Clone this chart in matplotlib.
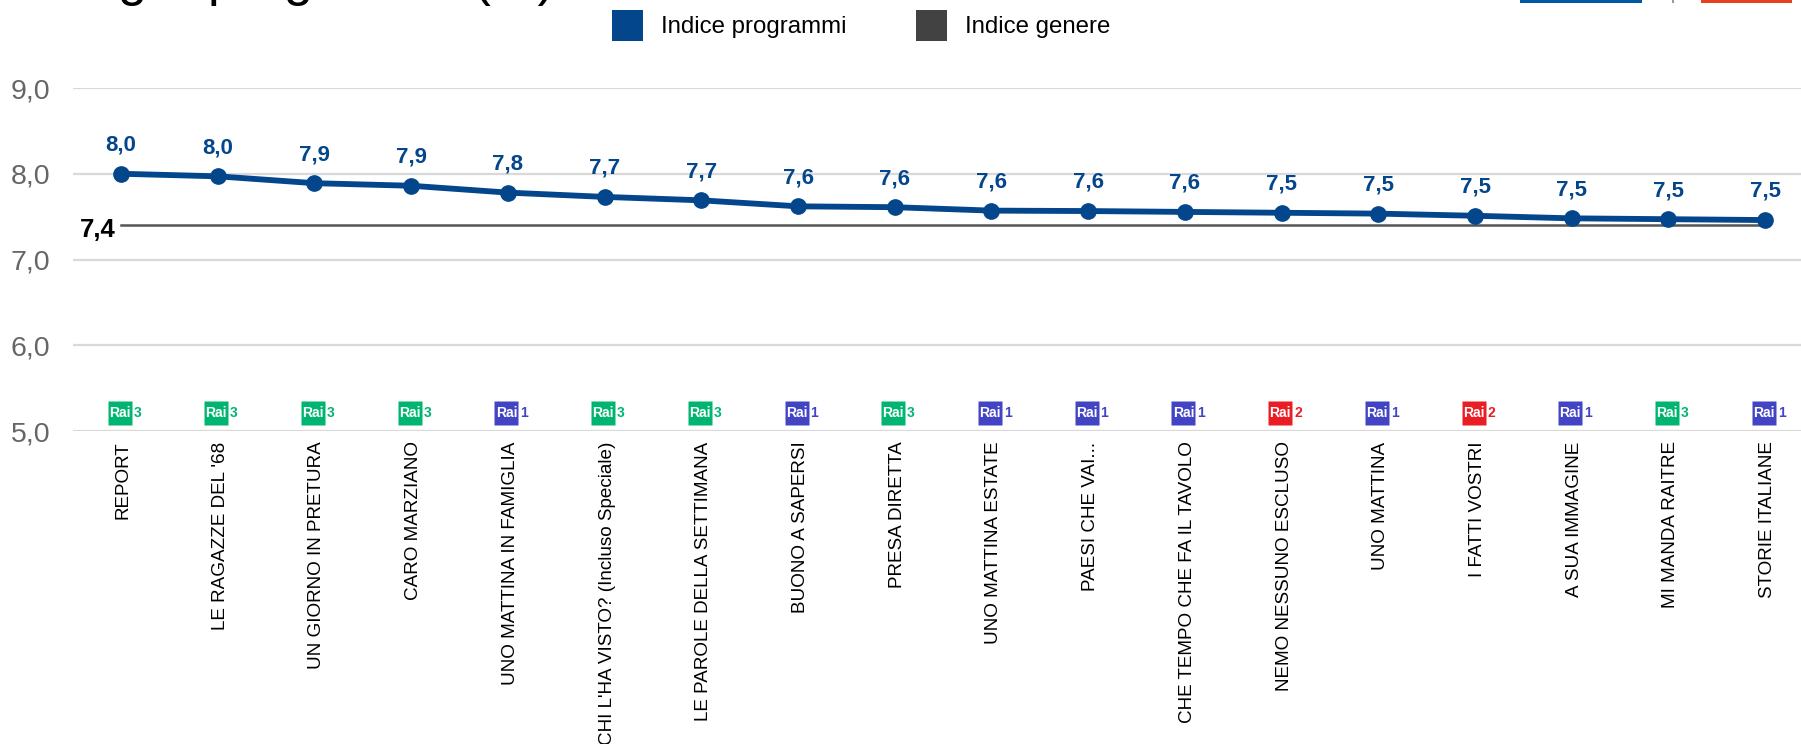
import matplotlib
matplotlib.use('Agg')
import matplotlib.pyplot as plt
from matplotlib.patches import Rectangle
from matplotlib.transforms import ScaledTranslation

plt.rcParams['font.family'] = ['Liberation Sans', 'DejaVu Sans']

programmi = ['REPORT', "LE RAGAZZE DEL '68", 'UN GIORNO IN PRETURA', 'CARO MARZIANO',
             'UNO MATTINA IN FAMIGLIA', "CHI L'HA VISTO? (Incluso Speciale)",
             'LE PAROLE DELLA SETTIMANA', 'BUONO A SAPERSI', 'PRESA DIRETTA',
             'UNO MATTINA ESTATE', 'PAESI CHE VAI...', 'CHE TEMPO CHE FA IL TAVOLO',
             'NEMO NESSUNO ESCLUSO', 'UNO MATTINA', 'I FATTI VOSTRI', 'A SUA IMMAGINE',
             'MI MANDA RAITRE', 'STORIE ITALIANE']
indice = [8.00, 7.97, 7.89, 7.86, 7.78, 7.73, 7.69, 7.62, 7.61,
          7.57, 7.565, 7.555, 7.545, 7.535, 7.51, 7.48, 7.47, 7.46]
etichette = ['8,0', '8,0', '7,9', '7,9', '7,8', '7,7', '7,7', '7,6', '7,6',
             '7,6', '7,6', '7,6', '7,5', '7,5', '7,5', '7,5', '7,5', '7,5']
reti = [3, 3, 3, 3, 1, 3, 3, 1, 3, 1, 1, 1, 2, 1, 2, 1, 3, 1]
indice_genere = 7.4
colori_rete = {1: '#4244c4', 2: '#ea1c24', 3: '#00b56f'}
BLU = '#03468c'

W, H = 1801, 744
fig = plt.figure(figsize=(W / 100, H / 100), dpi=100)
ax = fig.add_axes([73 / W, 1 - 431 / H, (W - 73) / W, 343 / H])
ax.set_xlim(-0.496, 17.37)
ax.set_ylim(5, 9)
for s in ax.spines.values():
    s.set_visible(False)
ax.set_yticks([5, 6, 7, 8, 9])
ax.set_yticklabels(['5,0', '6,0', '7,0', '8,0', '9,0'], color='#666666', fontsize=20.5)
ax.tick_params(axis='y', length=0, pad=16.5)
ax.grid(axis='y', color='#d9d9d9', lw=1.6)
ax.set_axisbelow(True)

x = list(range(len(programmi)))
ax.set_xticks(x)
ax.set_xticklabels(programmi, rotation=90, fontsize=13.6, color='black', va='top', ha='center')
ax.tick_params(axis='x', length=0, pad=7.5)
sposta = ScaledTranslation(1.8 / 72, 0, fig.dpi_scale_trans)
for lab in ax.get_xticklabels():
    lab.set_transform(lab.get_transform() + sposta)

ax.plot([x[0], x[-1]], [indice_genere] * 2, color='#555555', lw=1.8, zorder=2)
ax.annotate('7,4', (x[0], indice_genere), xytext=(-4, -3.5), textcoords='offset points',
            ha='right', va='center', fontsize=18.5, fontweight='bold', color='black')
ax.plot(x, indice, color=BLU, lw=4.2, marker='o', ms=11, zorder=3)
for xi, v, t in zip(x, indice, etichette):
    ax.annotate(t, (xi, v), xytext=(0, 13), textcoords='offset points', ha='center',
                va='bottom', fontsize=16, fontweight='bold', color=BLU)

# loghi rete sopra l'asse
for xi, r in zip(x, reti):
    c = colori_rete[r]
    ax.plot(xi - 0.015, 5.21, 's', ms=17.3, color=c, mec='none', zorder=4)
    ax.annotate('Rai', (xi - 0.015, 5.21), xytext=(0, 0), textcoords='offset points', ha='center',
                va='center', fontsize=10, fontweight='bold', color='white', zorder=5)
    ax.annotate(str(r), (xi - 0.015, 5.21), xytext=(10, 0), textcoords='offset points', ha='left',
                va='center', fontsize=10, fontweight='bold', color=c)

# titolo tagliato dal bordo superiore, si leggono solo i discendenti
fig.text(77 / W, 1 + 5 / H, 'Ogni', fontsize=37.8, va='baseline', ha='left')
fig.text(208 / W, 1 + 5 / H, 'programmi (%)', fontsize=37.8, va='baseline', ha='left')

# legenda
for px, c, t in [(612, BLU, 'Indice programmi'), (916, '#424242', 'Indice genere')]:
    fig.add_artist(Rectangle((px / W, 1 - 41 / H), 31 / W, 31 / H, transform=fig.transFigure, fc=c, ec='none'))
    fig.text((px + 49) / W, 1 - 27 / H, t, fontsize=17.3, va='center', ha='left', color='black')

# resti del logo in alto a destra
for px, pw, c in [(1520, 122, '#0057a3'), (1672, 2, '#999999'), (1701, 91, '#e8401c')]:
    fig.add_artist(Rectangle((px / W, 1 - 3 / H), pw / W, 3 / H, transform=fig.transFigure, fc=c, ec='none'))

fig.savefig('out.png', dpi=100)
